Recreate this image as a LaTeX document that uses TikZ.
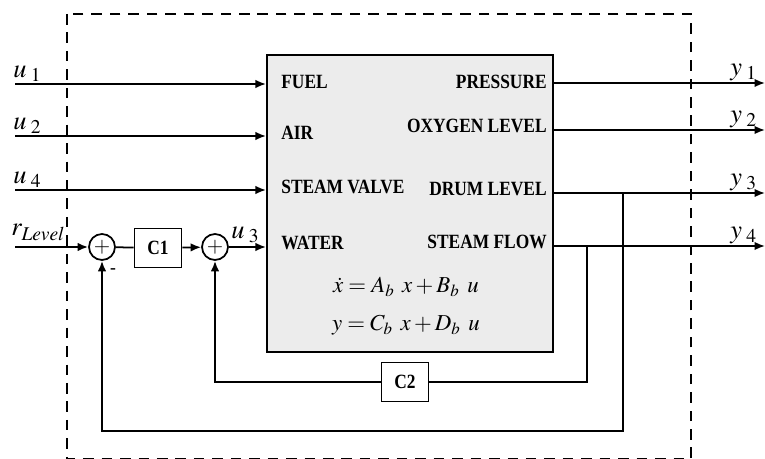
\documentclass[tikz,border=0pt]{standalone}
\usepackage{mathptmx}
\usepackage{fontspec}
\setmainfont{Liberation Serif}
\newfontfamily\narrowserif{Liberation Serif}[FakeStretch=0.86]
\usetikzlibrary{arrows.meta, positioning}
\definecolor{plantgray}{RGB}{236,236,236}

\begin{document}
\begin{tikzpicture}[x=0.02cm, y=-0.02cm,
  plant/.style={rectangle, draw=black, line width=1.2pt, fill=plantgray,
                minimum width=5.72cm, minimum height=5.94cm},
  port/.style={font=\narrowserif\fontsize{11.5}{12}\selectfont\bfseries, inner sep=0pt},
  eqn/.style={font=\fontsize{13}{14}\selectfont, inner sep=0pt},
  ctrl/.style={rectangle, draw, line width=1pt, minimum width=0.94cm,
               minimum height=0.78cm, font=\narrowserif\fontsize{11.5}{12}\selectfont\bfseries},
  sum/.style={circle, draw, line width=1pt, minimum size=0.52cm, inner sep=0pt,
              font=\fontsize{12}{12}\selectfont},
  arrow/.style={-{Latex[length=2.1mm,width=1.7mm]}, line width=1pt},
  wire/.style={line width=1pt},
  sig/.style={font=\fontsize{15}{16}\selectfont, inner sep=0pt, anchor=south west},
  border/.style={line width=1.4pt, dash pattern=on 6pt off 4.5pt}
]
  \useasboundingbox (0,0) rectangle (765,459);
  \draw[border] (67,14) rectangle (691,459);

  % Boiler block
  \node[plant] (plant) at (410,203.5) {};
  \node[port, anchor=west] (fuel) at (281,82) {FUEL};
  \node[port, anchor=west] (air) at (281,133) {AIR};
  \node[port, anchor=west] (valve) at (281,187) {STEAM VALVE};
  \node[port, anchor=west] (water) at (281,243) {WATER};
  \node[port, anchor=east] (press) at (547,82) {PRESSURE};
  \node[port, anchor=east] (oxy) at (547,126) {OXYGEN LEVEL};
  \node[port, anchor=east] (drum) at (547,189) {DRUM LEVEL};
  \node[port, anchor=east] (flow) at (547,242) {STEAM FLOW};
  \node[eqn] (eq1) at (406,287) {$\dot{x} \mathrel{=} A_{b}\;\,x \mathbin{+} B_{b}\;\,u$};
  \node[eqn] (eq2) at (406,325) {$y \mathrel{=} C_{b}\;\,x \mathbin{+} D_{b}\;\,u$};

  % Inputs
  \coordinate (in1) at (15,84);
  \coordinate (in2) at (15,136);
  \coordinate (in4) at (15,190);
  \coordinate (rin) at (15,247);
  \draw[arrow] (in1) -- (in1 -| plant.west);
  \draw[arrow] (in2) -- (in2 -| plant.west);
  \draw[arrow] (in4) -- (in4 -| plant.west);
  \node[sig] (lu1) at (13,82) {$u_{\;1}$};
  \node[sig] (lu2) at (13,134) {$u_{\;2}$};
  \node[sig] (lu4) at (13,188) {$u_{\;4}$};
  \node[sig] (lr) at (11,241) {$r_{Level}$};

  % Level loop
  \node[sum] (s1) at (102,247) {$+$};
  \node[ctrl] (c1) at (158,248) {C1};
  \node[sum] (s2) at (215,247) {$+$};
  \draw[arrow] (rin) -- (s1);
  \draw[wire] (s1) -- (c1);
  \draw[arrow] (c1) -- (s2);
  \draw[arrow] (s2) -- (s2 -| plant.west);
  \node[sig] (lu3) at (231,243) {$u_{\;3}$};
  \node[font=\bfseries, inner sep=0pt] (minus) at (113,271) {-};

  % Outputs
  \coordinate (out1) at (765,83);
  \coordinate (out2) at (765,130);
  \coordinate (out3) at (765,193);
  \coordinate (out4) at (765,246);
  \draw[arrow] (out1 -| plant.east) -- (out1);
  \draw[arrow] (out2 -| plant.east) -- (out2);
  \draw[arrow] (out3 -| plant.east) -- (out3);
  \draw[arrow] (out4 -| plant.east) -- (out4);
  \node[sig] (ly1) at (730,81) {$y_{\;1}$};
  \node[sig] (ly2) at (730,128) {$y_{\;2}$};
  \node[sig] (ly3) at (730,191) {$y_{\;3}$};
  \node[sig] (ly4) at (730,244) {$y_{\;4}$};

  % Feedback paths
  \coordinate (tapA) at (623,193);
  \coordinate (tapB) at (587,246);
  \coordinate (fbA) at (0,431);
  \node[ctrl] (c2) at (405,382) {C2};
  \draw[arrow] (tapA) -- (tapA |- fbA) -| (s1.south);
  \draw[wire] (tapB) |- (c2.east);
  \draw[arrow] (c2.west) -| (s2.south);
\end{tikzpicture}
\end{document}
